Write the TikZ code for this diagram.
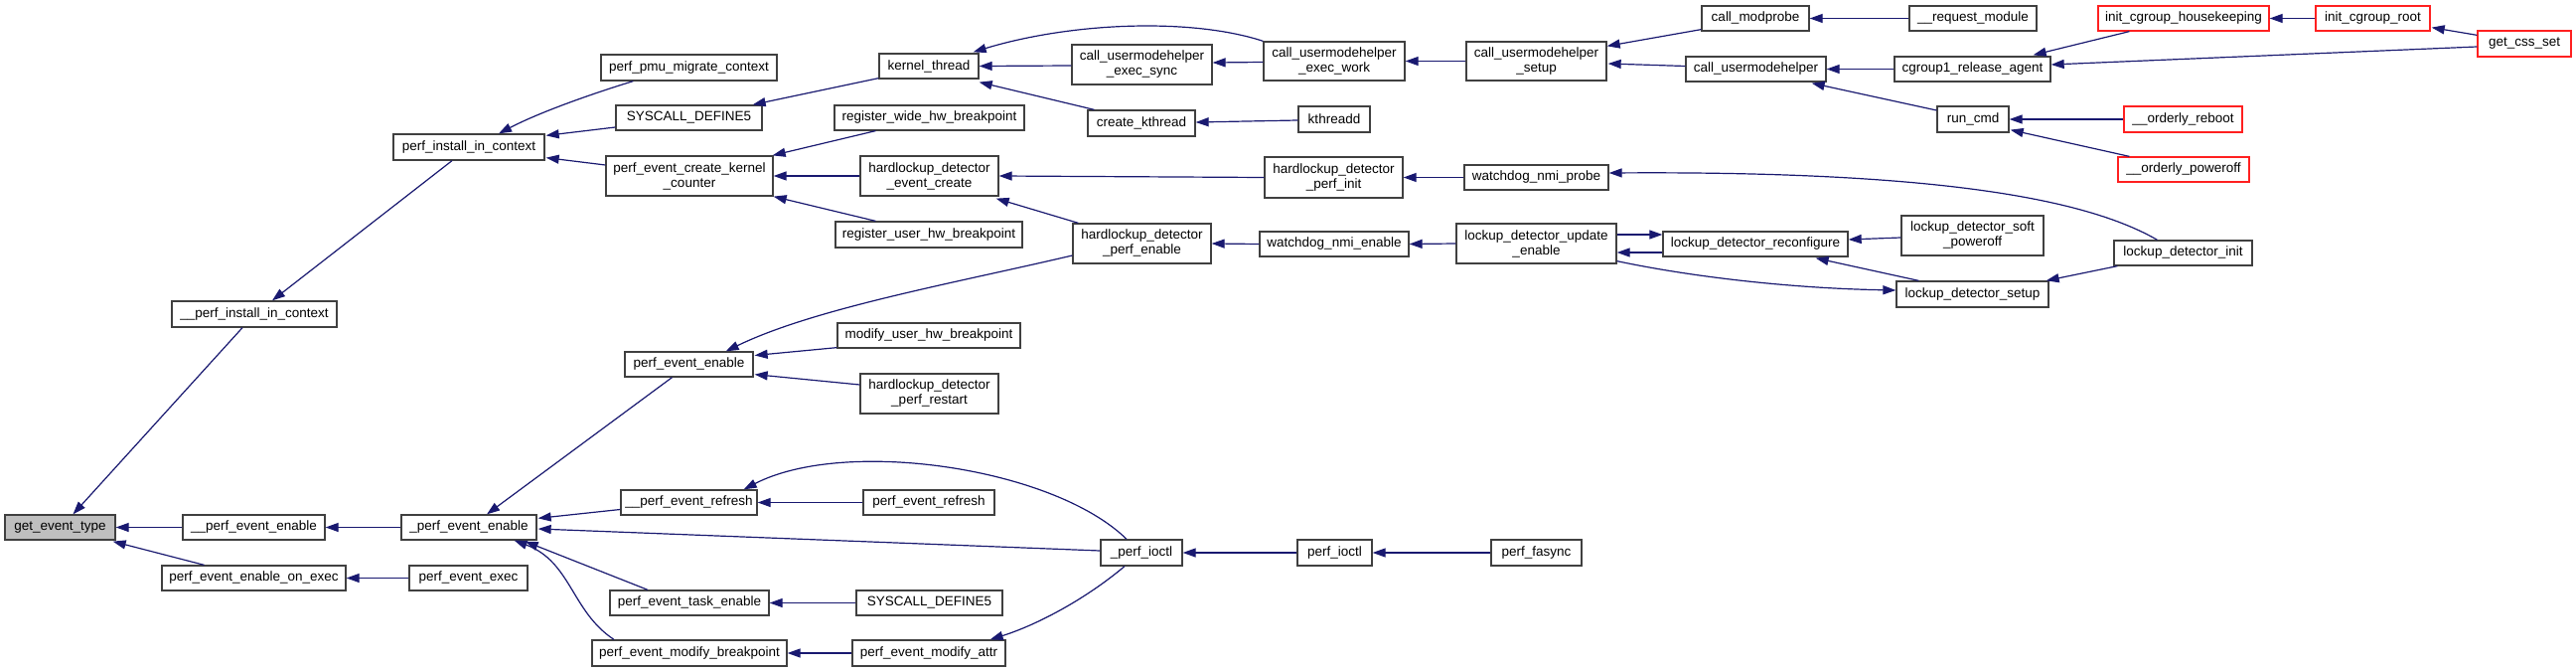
\documentclass[tikz,border=0pt]{standalone}
\usepackage{fontspec}
\setmainfont{Liberation Sans}
\usetikzlibrary{arrows.meta,calc}
\definecolor{edgeblue}{HTML}{191970}
\definecolor{boxgray}{HTML}{BFBFBF}
\definecolor{boxline}{HTML}{404040}
\definecolor{boxred}{HTML}{FF2020}
\tikzset{
  box/.style={draw=boxline, line width=1.3pt, fill=white, inner sep=0pt, align=center,
    font=\fontsize{13.5}{15}\selectfont},
  redbox/.style={box, draw=boxred},
  edge/.style={draw=edgeblue, line width=1.2pt, -{Triangle[length=13pt,width=9pt]}}
}
\begin{document}
\begin{tikzpicture}[x=1pt,y=-1pt]
\fill[white] (0,0) rectangle (2593,676);
\useasboundingbox (0,0) rectangle (2593,676);
% nodes
\node[box,fill=boxgray,minimum width=111pt,minimum height=25pt] (get) at (60.5,530.5) {get\_event\_type};
\node[box,minimum width=166pt,minimum height=26pt] (ipic) at (256,316) {\_\_perf\_install\_in\_context};
\node[box,minimum width=152pt,minimum height=26pt] (pic) at (472,148) {perf\_install\_in\_context};
\node[box,minimum width=177pt,minimum height=26pt] (pmc) at (693.5,68) {perf\_pmu\_migrate\_context};
\node[box,minimum width=147pt,minimum height=25pt] (sd5a) at (693.5,118.5) {SYSCALL\_DEFINE5};
\node[box,minimum width=168pt,minimum height=40pt] (pekc) at (694,177) {perf\_event\_create\_kernel\\\_counter};
\node[box,minimum width=100pt,minimum height=25pt] (kt) at (935,66.5) {kernel\_thread};
\node[box,minimum width=191pt,minimum height=25pt] (rwhb) at (935.5,118.5) {register\_wide\_hw\_breakpoint};
\node[box,minimum width=139pt,minimum height=40pt] (hdec) at (935.5,177) {hardlockup\_detector\\\_event\_create};
\node[box,minimum width=188pt,minimum height=26pt] (ruhb) at (935,236) {register\_user\_hw\_breakpoint};
\node[box,minimum width=184pt,minimum height=25pt] (muhb) at (935,337.5) {modify\_user\_hw\_breakpoint};
\node[box,minimum width=129pt,minimum height=25pt] (pee) at (693.5,366.5) {perf\_event\_enable};
\node[box,minimum width=139pt,minimum height=40pt] (hdpr) at (935.5,396) {hardlockup\_detector\\\_perf\_restart};
\node[box,minimum width=143pt,minimum height=25pt] (ipee) at (255.5,530.5) {\_\_perf\_event\_enable};
\node[box,minimum width=136pt,minimum height=25pt] (upee) at (472,530.5) {\_perf\_event\_enable};
\node[box,minimum width=185pt,minimum height=25pt] (peeoe) at (255.5,581.5) {perf\_event\_enable\_on\_exec};
\node[box,minimum width=119pt,minimum height=25pt] (pex) at (471.5,581.5) {perf\_event\_exec};
\node[box,minimum width=137pt,minimum height=25pt] (iper) at (693.5,505.5) {\_\_perf\_event\_refresh};
\node[box,minimum width=132pt,minimum height=25pt] (per) at (935,505.5) {perf\_event\_refresh};
\node[box,minimum width=82pt,minimum height=26pt] (upio) at (1149,556) {\_perf\_ioctl};
\node[box,minimum width=160pt,minimum height=25pt] (pete) at (694,606.5) {perf\_event\_task\_enable};
\node[box,minimum width=147pt,minimum height=25pt] (sd5b) at (935.5,606.5) {SYSCALL\_DEFINE5};
\node[box,minimum width=196pt,minimum height=26pt] (pemb) at (694,657) {perf\_event\_modify\_breakpoint};
\node[box,minimum width=154pt,minimum height=26pt] (pema) at (935,657) {perf\_event\_modify\_attr};
\node[box,minimum width=141pt,minimum height=40pt] (cues) at (1149.5,65) {call\_usermodehelper\\\_exec\_sync};
\node[box,minimum width=142pt,minimum height=39pt] (cuew) at (1343,61.5) {call\_usermodehelper\\\_exec\_work};
\node[box,minimum width=108pt,minimum height=26pt] (ck) at (1149,124) {create\_kthread};
\node[box,minimum width=72pt,minimum height=26pt] (ktd) at (1343,120) {kthreadd};
\node[box,minimum width=139pt,minimum height=41pt] (hdpi) at (1342.5,178.5) {hardlockup\_detector\\\_perf\_init};
\node[box,minimum width=139pt,minimum height=40pt] (hdpe) at (1149.5,245) {hardlockup\_detector\\\_perf\_enable};
\node[box,minimum width=150pt,minimum height=25pt] (wne) at (1343,245.5) {watchdog\_nmi\_enable};
\node[box,minimum width=141pt,minimum height=39pt] (cus) at (1546.5,61.5) {call\_usermodehelper\\\_setup};
\node[box,minimum width=108pt,minimum height=25pt] (cm) at (1767,18.5) {call\_modprobe};
\node[box,minimum width=141pt,minimum height=25pt] (cu) at (1767.5,69.5) {call\_usermodehelper};
\node[box,minimum width=128pt,minimum height=25pt] (rm) at (1986,18.5) {\_\_request\_module};
\node[box,minimum width=157pt,minimum height=25pt] (cra) at (1985.5,69.5) {cgroup1\_release\_agent};
\node[box,minimum width=145pt,minimum height=25pt] (wnp) at (1546.5,178.5) {watchdog\_nmi\_probe};
\node[box,minimum width=161pt,minimum height=40pt] (lue) at (1546.5,245) {lockup\_detector\_update\\\_enable};
\node[box,minimum width=186pt,minimum height=25pt] (lr) at (1767,245.5) {lockup\_detector\_reconfigure};
\node[box,minimum width=143pt,minimum height=40pt] (lsp) at (1985.5,237) {lockup\_detector\_soft\\\_poweroff};
\node[box,minimum width=153pt,minimum height=26pt] (ls) at (1985.5,296) {lockup\_detector\_setup};
\node[box,minimum width=72pt,minimum height=26pt] (rc) at (1986,120) {run\_cmd};
\node[redbox,minimum width=172pt,minimum height=25pt] (ich) at (2198,18.5) {init\_cgroup\_housekeeping};
\node[redbox,minimum width=115pt,minimum height=25pt] (icr) at (2388.5,18.5) {init\_cgroup\_root};
\node[redbox,minimum width=94pt,minimum height=26pt] (gcs) at (2541,44) {get\_css\_set};
\node[redbox,minimum width=119pt,minimum height=26pt] (orb) at (2197.5,120) {\_\_orderly\_reboot};
\node[redbox,minimum width=132pt,minimum height=25pt] (opo) at (2198,170.5) {\_\_orderly\_poweroff};
\node[box,minimum width=139pt,minimum height=25pt] (li) at (2197.5,254.5) {lockup\_detector\_init};
\node[box,minimum width=75pt,minimum height=26pt] (pio) at (1343.5,556) {perf\_ioctl};
\node[box,minimum width=91pt,minimum height=26pt] (pfa) at (1546.5,556) {perf\_fasync};
% edges (caller -> callee, arrowhead at callee)
\draw[edge] ($(ipic.south)+(-12,0)$) -- ($(get.north)+(13,0)$);
\draw[edge] (ipee.west) -- (get.east);
\draw[edge] ($(peeoe.north)+(-50,0)$) -- ($(get.south east)+(-3,1)$);
\draw[edge] ($(pic.south)+(-17,0)$) -- ($(ipic.north)+(18,0)$);
\draw[edge] ($(pmc.south west)+(33,0)$) .. controls (600,93) and (545,112) .. ($(pic.north)+(30,0)$);
\draw[edge] ($(sd5a.west)+(0,9.5)$) -- ($(pic.north east)+(1,2)$);
\draw[edge] ($(pekc.west)+(0,-11)$) -- ($(pic.south east)+(1,-3)$);
\draw[edge] ($(kt.south west)+(0,-1)$) -- ($(sd5a.north east)+(-10,0)$);
\draw[edge] ($(rwhb.south west)+(42,0)$) -- ($(pekc.north east)+(-1,0)$);
\draw[edge] (hdec.west) -- (pekc.east);
\draw[edge] ($(ruhb.north west)+(41,0)$) -- (pekc.south east);
\draw[edge] (cuew.north west) .. controls (1200,18) and (1080,22) .. ($(kt.north east)+(-6,-1)$);
\draw[edge] ($(cues.west)+(0,1)$) -- (kt.east);
\draw[edge] ($(ck.north west)+(7,0)$) -- ($(kt.south east)+(0,3)$);
\draw[edge] ($(cuew.west)+(0,1)$) -- ($(cues.east)+(0,-2)$);
\draw[edge] ($(ktd.west)+(0,1)$) -- ($(ck.east)+(0,-1)$);
\draw[edge] (hdpi.west) -- (hdec.east);
\draw[edge] ($(hdpe.north west)+(6,0)$) -- ($(hdec.south east)+(-3,2)$);
\draw[edge] (wnp.west) -- (hdpi.east);
\draw[edge] (wne.west) -- (hdpe.east);
\draw[edge] ($(hdpe.west)+(0,12)$) .. controls (960,285) and (820,310) .. ($(pee.north east)+(-28,0)$);
\draw[edge] ($(muhb.south west)+(0,-1)$) -- ($(pee.east)+(1,-9)$);
\draw[edge] ($(hdpr.west)+(0,-9)$) -- ($(pee.south east)+(1,-3)$);
\draw[edge] ($(pee.south)+(-17,0)$) -- ($(upee.north)+(18,0)$);
\draw[edge] ($(iper.west)+(0,7)$) -- ($(upee.north east)+(1,4)$);
\draw[edge] ($(upio.west)+(0,-2)$) -- ($(upee.east)+(1,1.5)$);
\draw[edge] ($(pete.north)+(-42,0)$) -- ($(upee.south east)+(-12,1)$);
\draw[edge] ($(pemb.north)+(-76,0)$) .. controls (575,615) and (575,565) .. ($(upee.south east)+(-23,0)$);
\draw[edge] (upee.west) -- (ipee.east);
\draw[edge] (pex.west) -- (peeoe.east);
\draw[edge] (per.west) -- (iper.east);
\draw[edge] ($(upio.north)+(-15,0)$) .. controls (1060,470) and (850,440) .. ($(iper.north east)+(-14,0)$);
\draw[edge] (sd5b.west) -- (pete.east);
\draw[edge] (pema.west) -- (pemb.east);
\draw[edge] ($(upio.south)+(-17,0)$) .. controls (1090,605) and (1040,630) .. ($(pema.north east)+(-16,0)$);
\draw[edge] (pio.west) -- (upio.east);
\draw[edge] (pfa.west) -- (pio.east);
\draw[edge] (cus.west) -- (cuew.east);
\draw[edge] ($(cm.south west)+(0,-2)$) -- ($(cus.north east)+(0,5)$);
\draw[edge] ($(cu.west)+(0,-3)$) -- ($(cus.east)+(1,2.5)$);
\draw[edge] (rm.west) -- (cm.east);
\draw[edge] (cra.west) -- (cu.east);
\draw[edge] ($(rc.west)+(0,-9)$) -- ($(cu.south east)+(-15,1)$);
\draw[edge] ($(ich.south west)+(32,0)$) -- ($(cra.north east)+(-18,-1)$);
\draw[edge] ($(gcs.west)+(0,3)$) -- ($(cra.east)+(0,-4.5)$);
\draw[edge] (icr.west) -- (ich.east);
\draw[edge] ($(gcs.north west)+(0,5)$) -- ($(icr.south east)+(1,-4)$);
\draw[edge] (orb.west) -- (rc.east);
\draw[edge] ($(opo.north west)+(12,0)$) -- ($(rc.south east)+(1,-3)$);
\draw[edge] ($(li.north)+(-26,0)$) .. controls (2100,200) and (1950,172) .. ($(wnp.east)+(0,-4.5)$);
\draw[edge] (lue.west) -- (wne.east);
\draw[edge] ($(lue.east)+(0,-9)$) -- ($(lr.west)+(0,-9.5)$);
\draw[edge] ($(lr.west)+(0,8.5)$) -- ($(lue.east)+(0,9)$);
\draw[edge] ($(lue.south east)+(0,-3)$) .. controls (1700,278) and (1800,290) .. ($(ls.west)+(0,-4)$);
\draw[edge] ($(lsp.west)+(0,2)$) -- ($(lr.east)+(0,-4.5)$);
\draw[edge] ($(ls.north west)+(23,0)$) -- ($(lr.south east)+(-33,1)$);
\draw[edge] ($(li.south west)+(4,0)$) -- ($(ls.north east)+(-3,0)$);
\end{tikzpicture}
\end{document}
